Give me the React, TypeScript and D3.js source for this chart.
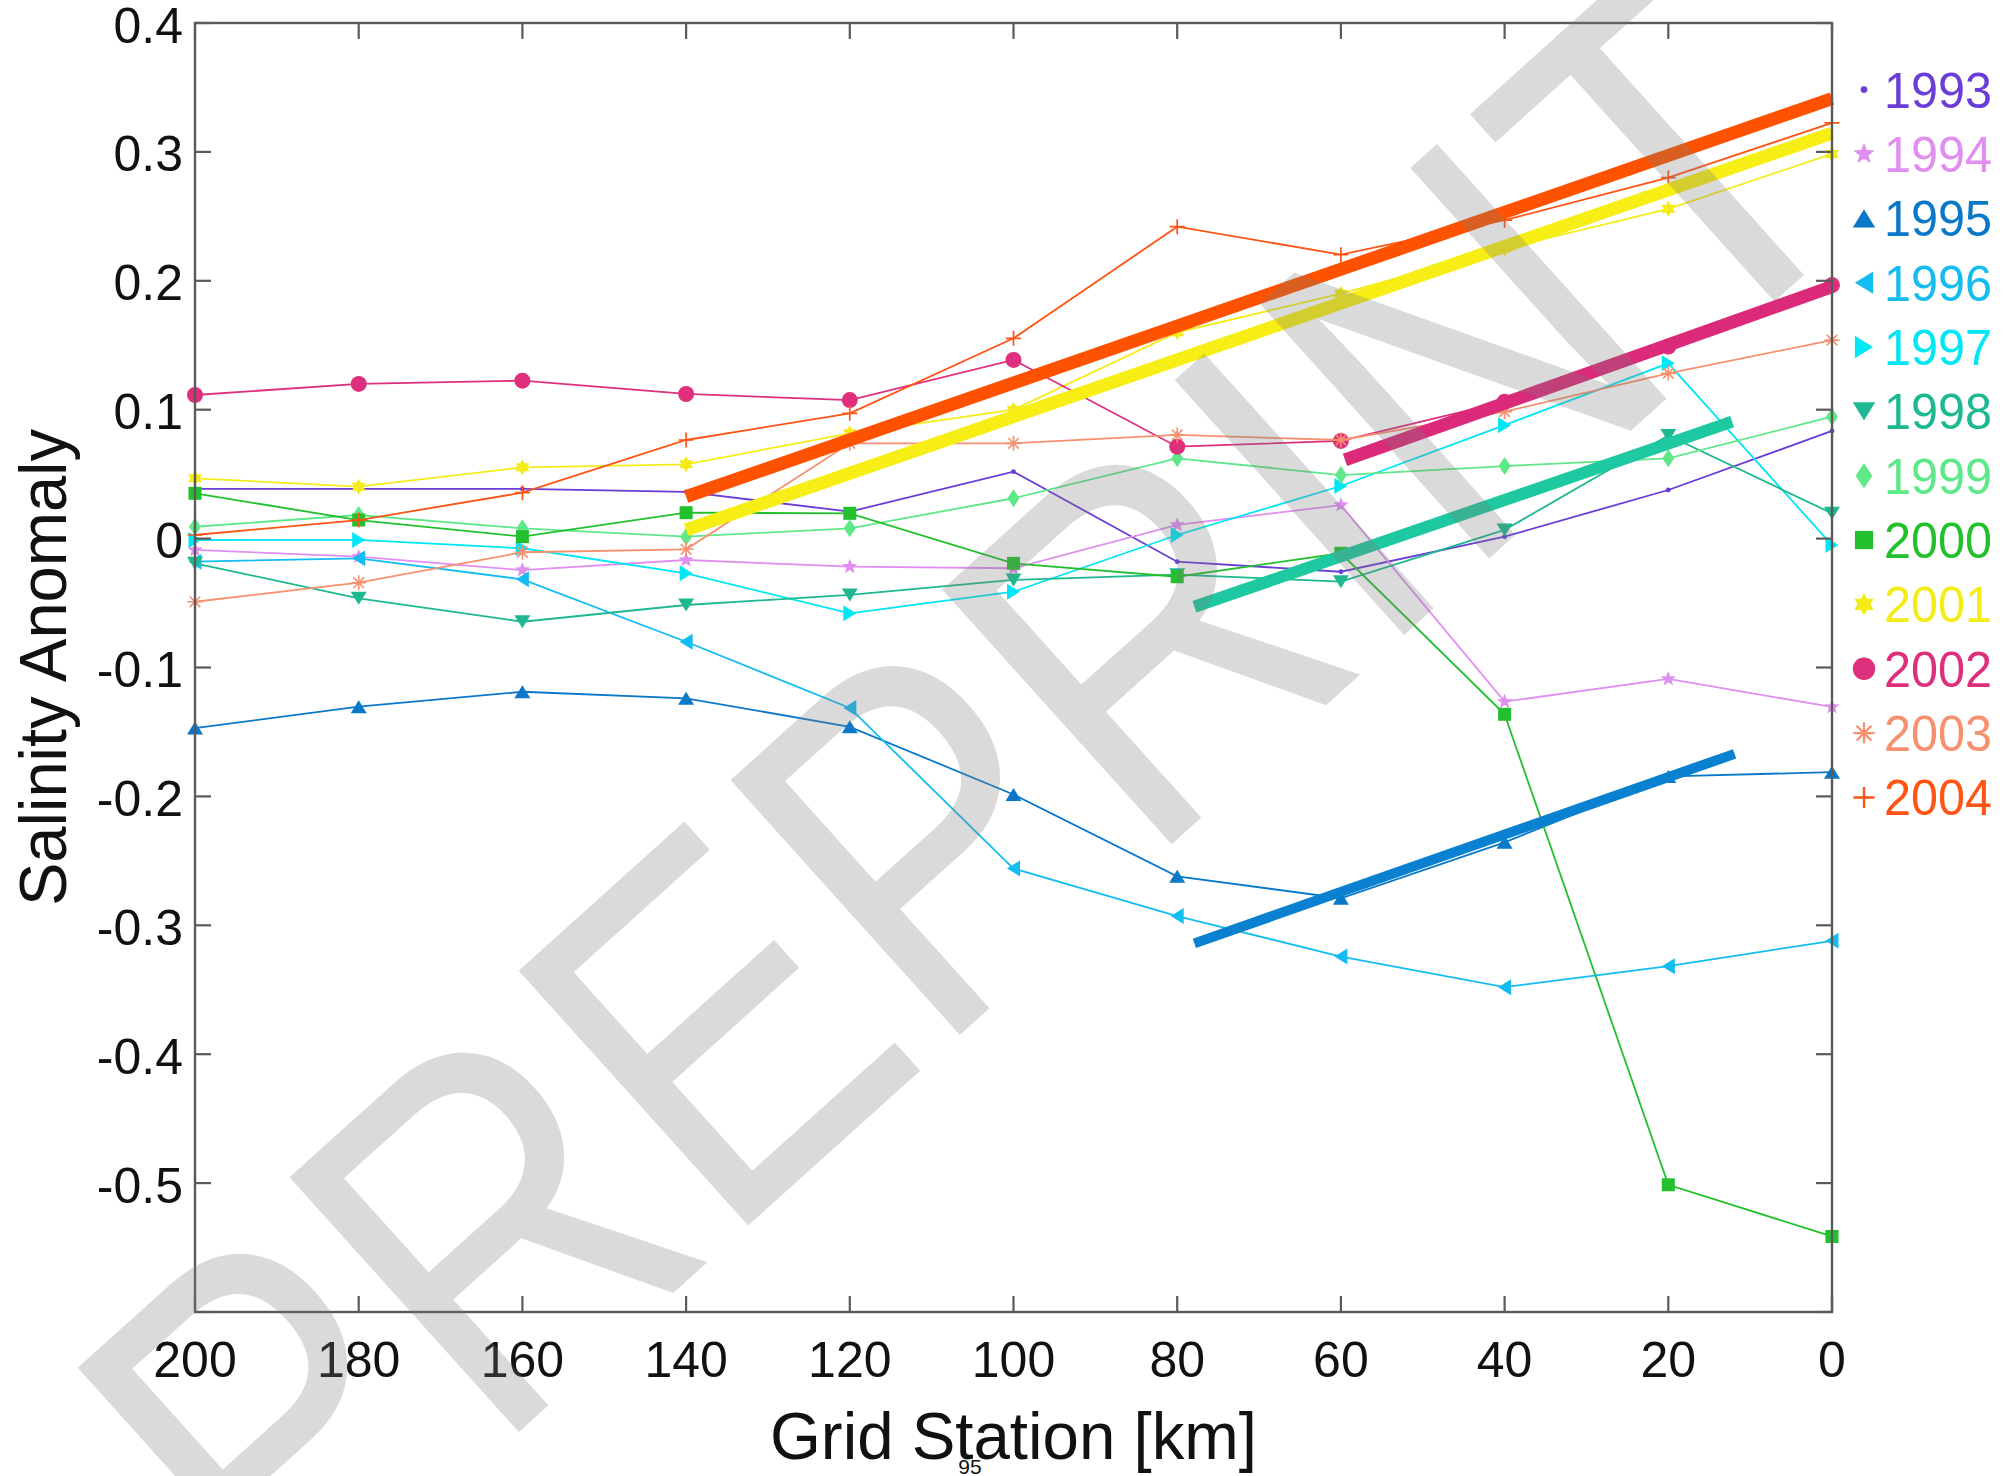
import React from 'react';
import * as d3 from 'd3';

// ---------- data ----------
const stationsKm = [200, 180, 160, 140, 120, 100, 80, 60, 40, 20, 0];
const years = ['1993', '1994', '1995', '1996', '1997', '1998', '1999', '2000', '2001', '2002', '2003', '2004'];

const s1993 = [0.0385, 0.0385, 0.0385, 0.0363, 0.0209, 0.0519, -0.0179, -0.0257, 0.0015, 0.0377, 0.0835];
const s1994 = [-0.0088, -0.014, -0.0244, -0.0166, -0.0218, -0.023, 0.0106, 0.026, -0.1265, -0.1089, -0.1306];
const s1995 = [-0.147, -0.1304, -0.1188, -0.1239, -0.146, -0.1985, -0.262, -0.279, -0.2356, -0.1845, -0.1812];
const s1996 = [-0.0179, -0.0153, -0.0316, -0.08, -0.1314, -0.256, -0.2928, -0.3243, -0.348, -0.3317, -0.312];
const s1997 = [-0.0011, -0.001, -0.0075, -0.0269, -0.058, -0.0412, 0.0028, 0.0408, 0.088, 0.136, -0.005];
const s1998 = [-0.0192, -0.0463, -0.0645, -0.0515, -0.0437, -0.0321, -0.028, -0.0334, 0.0067, 0.08, 0.0196];
const s1999 = [0.0092, 0.0183, 0.008, 0.0015, 0.008, 0.0313, 0.0623, 0.0493, 0.0563, 0.0623, 0.0946];
const s2000 = [0.0351, 0.0144, 0.0015, 0.0201, 0.0196, -0.0192, -0.0296, -0.0114, -0.1363, -0.5013, -0.5414];
const s2001 = [0.0468, 0.0403, 0.0553, 0.0576, 0.0817, 0.1, 0.16, 0.19, 0.225, 0.2558, 0.2984];
const s2002 = [0.1114, 0.12, 0.1225, 0.1122, 0.1075, 0.1386, 0.0713, 0.0758, 0.1062, 0.1489, 0.1967];
const s2003 = [-0.049, -0.0342, -0.0106, -0.0083, 0.0739, 0.0739, 0.0804, 0.0765, 0.0985, 0.1282, 0.154];
const s2004 = [0.0028, 0.0144, 0.0356, 0.0765, 0.0972, 0.1554, 0.242, 0.2203, 0.247, 0.28, 0.3225];

// thick trend lines: [start km, end km] and [start value, end value]
const trend2001Km = [140, 0];
const trend2001Val = [0.0067, 0.3146];
const trend2004Km = [140, 0];
const trend2004Val = [0.0325, 0.3413];
const trend2002Km = [59.5, 0];
const trend2002Val = [0.061, 0.1955];
const trend1998Km = [77.9, 12.2];
const trend1998Val = [-0.0529, 0.0907];
const trend1995Km = [77.9, 11.9];
const trend1995Val = [-0.314, -0.167];

const xTicks = [200, 180, 160, 140, 120, 100, 80, 60, 40, 20, 0];
const yTicks = [0.4, 0.3, 0.2, 0.1, 0, -0.1, -0.2, -0.3, -0.4, -0.5, -0.6];
const yTickLabels = ['0.4', '0.3', '0.2', '0.1', '0', '-0.1', '-0.2', '-0.3', '-0.4', '-0.5', ''];

// ---------- styles ----------
const seriesValues = [s1993, s1994, s1995, s1996, s1997, s1998, s1999, s2000, s2001, s2002, s2003, s2004];
const seriesColors = ['#6a3cd8', '#e08ef0', '#0a78c8', '#14bdf0', '#00e6f4', '#1db890', '#5fe888', '#22c02c', '#f4ec18', '#de2f7c', '#f7906e', '#ff5414'];
const seriesMarkers = ['dot', 'pent', 'tu', 'tl', 'tr', 'td', 'diamond', 'square', 'hex', 'circle', 'aster', 'plus'];

const trends = [
  { km: trend2001Km, val: trend2001Val, color: '#f6ee14', w: 13 },
  { km: trend2004Km, val: trend2004Val, color: '#ff5200', w: 13 },
  { km: trend2002Km, val: trend2002Val, color: '#dc2a7a', w: 13 },
  { km: trend1998Km, val: trend1998Val, color: '#1ec8a0', w: 12 },
  { km: trend1995Km, val: trend1995Val, color: '#0a80d0', w: 10 },
];

const W = 2007, H = 1476;
const M = { left: 195, right: 1832, top: 23, bottom: 1312 };
const FONT = 'Liberation Sans, Arial, Helvetica, sans-serif';

function starPath(r: number, inner: number, n: number): string {
  const pts: string[] = [];
  for (let i = 0; i < 2 * n; i++) {
    const rr = i % 2 === 0 ? r : inner;
    const a = -Math.PI / 2 + (i * Math.PI) / n;
    pts.push(`${(rr * Math.cos(a)).toFixed(2)},${(rr * Math.sin(a)).toFixed(2)}`);
  }
  return 'M' + pts.join('L') + 'Z';
}

function Marker({ kind, x, y, color, s }: { kind: string; x: number; y: number; color: string; s: number }) {
  const t = `translate(${x},${y})`;
  const w = 16 * s, h = 13 * s;
  switch (kind) {
    case 'dot':
      return <circle cx={x} cy={y} r={2.4 * s} fill={color} />;
    case 'circle':
      return <circle cx={x} cy={y} r={8 * s} fill={color} />;
    case 'square':
      return <rect x={x - 6.5 * s} y={y - 6.5 * s} width={13 * s} height={13 * s} fill={color} />;
    case 'diamond':
      return <path transform={t} d={`M0,${-9 * s}L${6 * s},0L0,${9 * s}L${-6 * s},0Z`} fill={color} />;
    case 'tu':
      return <path transform={t} d={`M0,${-h / 2}L${w / 2},${h / 2}L${-w / 2},${h / 2}Z`} fill={color} />;
    case 'td':
      return <path transform={t} d={`M0,${h / 2}L${w / 2},${-h / 2}L${-w / 2},${-h / 2}Z`} fill={color} />;
    case 'tl':
      return <path transform={t} d={`M${-h / 2},0L${h / 2},${-w / 2}L${h / 2},${w / 2}Z`} fill={color} />;
    case 'tr':
      return <path transform={t} d={`M${h / 2},0L${-h / 2},${-w / 2}L${-h / 2},${w / 2}Z`} fill={color} />;
    case 'pent':
      return <path transform={t} d={starPath(8 * s, 3.4 * s, 5)} fill={color} />;
    case 'hex':
      return <path transform={t} d={starPath(8 * s, 4.6 * s, 6)} fill={color} />;
    case 'aster': {
      const r = 7.5 * s;
      const d = [0, 45, 90, 135]
        .map((a) => {
          const c = Math.cos((a * Math.PI) / 180) * r, sn = Math.sin((a * Math.PI) / 180) * r;
          return `M${-c},${-sn}L${c},${sn}`;
        })
        .join('');
      return <path transform={t} d={d} stroke={color} strokeWidth={1.6 * s} fill="none" />;
    }
    case 'plus': {
      const r = 7.5 * s;
      return <path transform={t} d={`M${-r},0L${r},0M0,${-r}L0,${r}`} stroke={color} strokeWidth={1.7 * s} fill="none" />;
    }
    default:
      return null;
  }
}

export default function App() {
  const x = d3.scaleLinear().domain([200, 0]).range([M.left, M.right]);
  const y = d3.scaleLinear().domain([-0.6, 0.4]).range([M.bottom, M.top]);
  const line = d3
    .line<number>()
    .x((_, i) => x(stationsKm[i]))
    .y((d) => y(d));
  const axisColor = '#5a5a5a';
  const tickLen = 16;

  const legendY0 = 89.6;
  const legendDy = 64.35;

  return (
    <svg width={W} height={H} style={{ position: 'absolute', left: 0, top: 0, background: '#fff' }} fontFamily={FONT}>
      <rect x={0} y={0} width={W} height={H} fill="#fff" />

      {/* series */}
      {seriesValues.map((vals, si) => (
        <g key={years[si]}>
          <path d={line(vals) || ''} fill="none" stroke={seriesColors[si]} strokeWidth={1.8} />
          {vals.map((v, i) => (
            <Marker key={i} kind={seriesMarkers[si]} x={x(stationsKm[i])} y={y(v)} color={seriesColors[si]} s={1} />
          ))}
        </g>
      ))}

      {/* trend lines */}
      {trends.map((tr, i) => (
        <line
          key={i}
          x1={x(tr.km[0])}
          y1={y(tr.val[0])}
          x2={x(tr.km[1])}
          y2={y(tr.val[1])}
          stroke={tr.color}
          strokeWidth={tr.w}
        />
      ))}

      {/* axes box */}
      <rect x={M.left} y={M.top} width={M.right - M.left} height={M.bottom - M.top} fill="none" stroke={axisColor} strokeWidth={2.4} />
      {xTicks.map((t) => (
        <g key={'xt' + t}>
          <line x1={x(t)} x2={x(t)} y1={M.bottom} y2={M.bottom - tickLen} stroke={axisColor} strokeWidth={2.2} />
          <line x1={x(t)} x2={x(t)} y1={M.top} y2={M.top + tickLen} stroke={axisColor} strokeWidth={2.2} />
          <text x={x(t)} y={1377} textAnchor="middle" fontSize={50} fill="#111">
            {t}
          </text>
        </g>
      ))}
      {yTicks.map((t, i) => (
        <g key={'yt' + i}>
          <line x1={M.left} x2={M.left + tickLen} y1={y(t)} y2={y(t)} stroke={axisColor} strokeWidth={2.2} />
          <line x1={M.right} x2={M.right - tickLen} y1={y(t)} y2={y(t)} stroke={axisColor} strokeWidth={2.2} />
          <text x={183} y={y(t) + 19.5} textAnchor="end" fontSize={50} fill="#111">
            {yTickLabels[i]}
          </text>
        </g>
      ))}

      {/* axis titles */}
      <text
        transform={`translate(66,${(M.top + M.bottom) / 2}) rotate(-90)`}
        textAnchor="middle"
        fontSize={66}
        textLength={477}
        lengthAdjust="spacingAndGlyphs"
        fill="#111"
      >
        Salinity Anomaly
      </text>
      <text x={(M.left + M.right) / 2} y={1459} textAnchor="middle" fontSize={66} textLength={487} lengthAdjust="spacingAndGlyphs" fill="#111">
        Grid Station [km]
      </text>

      {/* legend */}
      {years.map((yr, i) => {
        const cy = legendY0 + i * legendDy;
        return (
          <g key={'lg' + yr}>
            <Marker kind={seriesMarkers[i]} x={1864} y={cy} color={seriesColors[i]} s={1.4} />
            <text x={1884} y={cy + 18} fontSize={50} fill={seriesColors[i]} textLength={108} lengthAdjust="spacingAndGlyphs">
              {yr}
            </text>
          </g>
        );
      })}

      {/* page number */}
      <text x={970} y={1474} textAnchor="middle" fontSize={21} fill="#111">
        95
      </text>

      {/* watermark */}
      <text
        transform={`translate(968,795) rotate(-42) scale(0.96,1.12)`}
        textAnchor="middle"
        dominantBaseline="central"
        fontSize={445}
        fill="#7a7a7a"
        fillOpacity={0.28}
        fontFamily={FONT}
      >
        PREPRINT
      </text>
    </svg>
  );
}
